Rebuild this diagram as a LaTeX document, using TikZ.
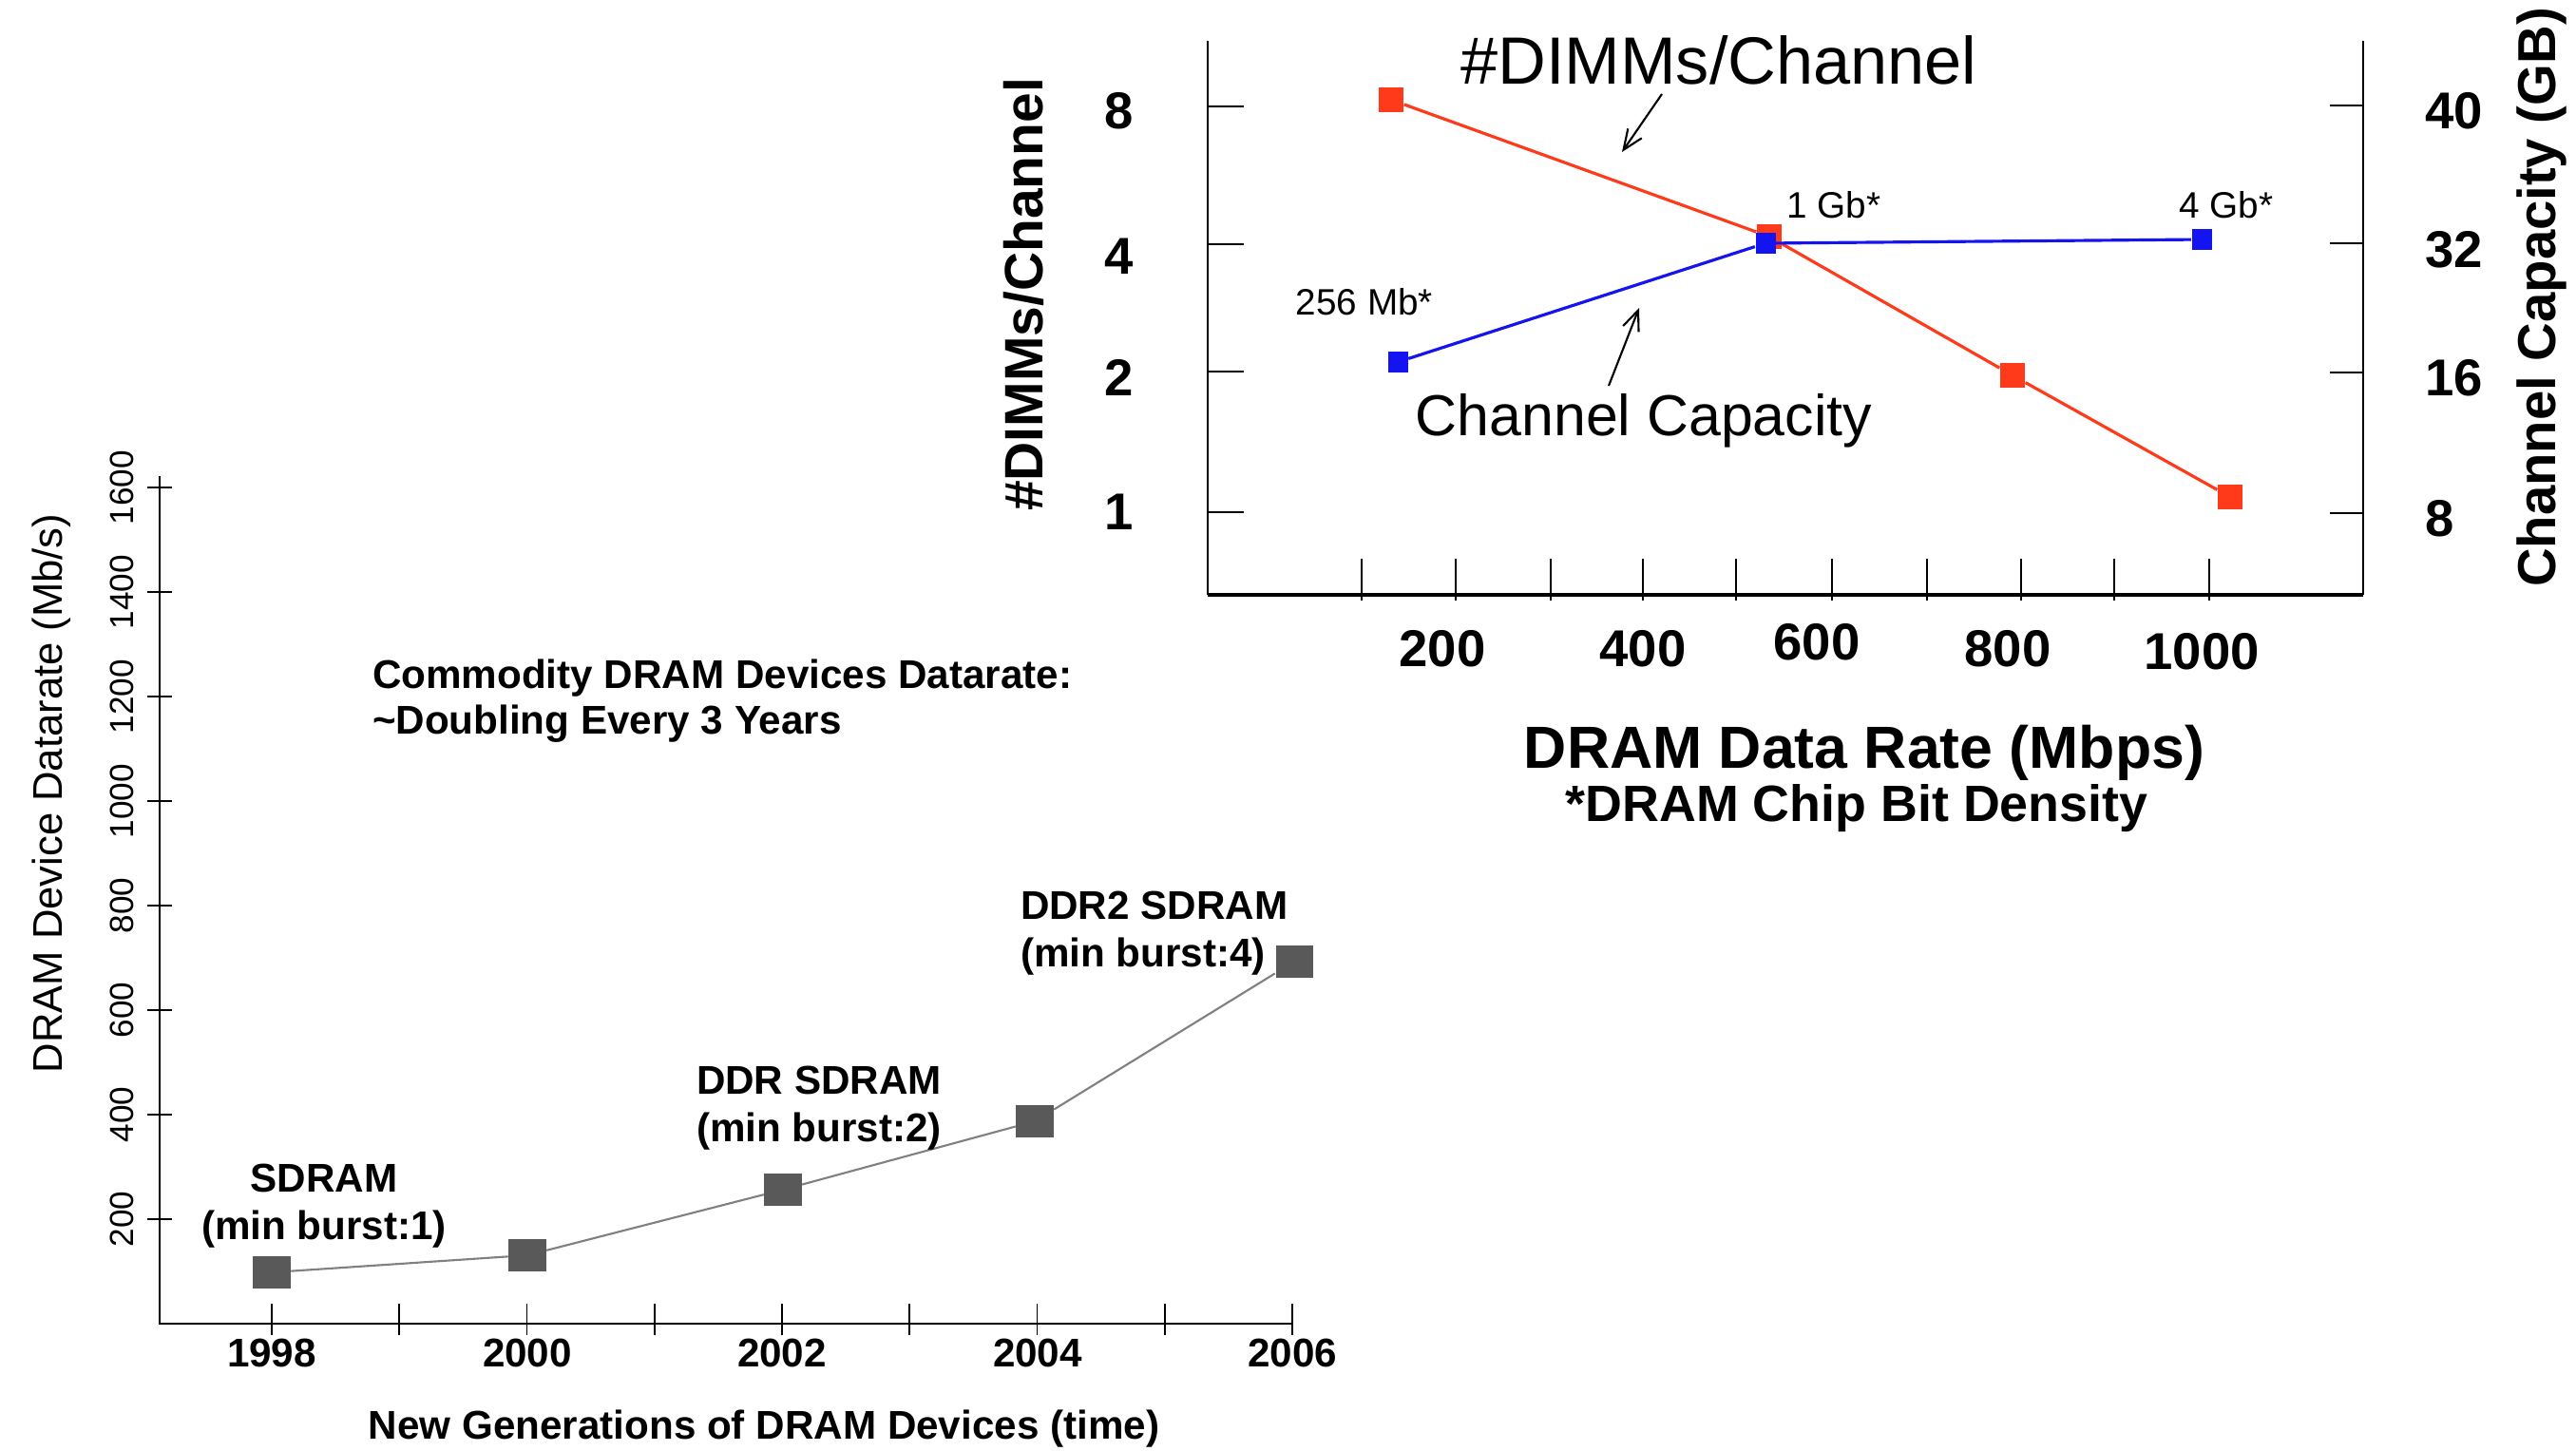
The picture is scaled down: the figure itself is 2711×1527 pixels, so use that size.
\documentclass[tikz,border=0pt]{standalone}
\usepackage{fontspec}
\setmainfont{Liberation Sans}
\usetikzlibrary{arrows.meta}
\definecolor{dimred}{HTML}{FF3A1A}
\definecolor{capblue}{HTML}{1414F0}
\definecolor{ptgray}{HTML}{595959}
\definecolor{lngray}{HTML}{808080}
\begin{document}
\begin{tikzpicture}[x=0.01cm,y=-0.01cm,
  axisline/.style={line width=0.6pt, draw=black},
  tickline/.style={line width=0.5pt, draw=black},
  redpt/.style={rectangle, fill=dimred, inner sep=0pt, minimum size=0.26cm},
  bluept/.style={rectangle, fill=capblue, inner sep=0pt, minimum size=0.21cm},
  graypt/.style={rectangle, fill=ptgray, inner sep=0pt, minimum width=0.39cm, minimum height=0.34cm},
  redline/.style={draw=dimred, line width=0.9pt},
  blueline/.style={draw=capblue, line width=0.9pt},
  grayline/.style={draw=lngray, line width=0.6pt},
  pointer/.style={draw=black, line width=0.6pt, -{Straight Barb[length=6pt,width=5pt]}},
  txt/.style={inner sep=0pt, outer sep=0pt},
  topnum/.style={txt, font=\fontsize{15.5}{18}\selectfont\bfseries},
  smalllab/.style={txt, font=\fontsize{11}{13}\selectfont},
  botb/.style={txt, font=\fontsize{12}{14.2}\selectfont\bfseries},
  botnum/.style={txt, font=\fontsize{10}{12}\selectfont},
]
\useasboundingbox (0,0) rectangle (2711,1527);

% ================= Top chart =================
\draw[axisline] (1271,43) -- (1271,626);
\draw[line width=0.9pt] (1271,626) -- (2487,626);
\draw[axisline] (2487,43) -- (2487,626);
\foreach \yy in {112,257,391,539} \draw[tickline] (1271,\yy) -- (1309,\yy);
\foreach \yy in {111,256,392,540} \draw[tickline] (2452,\yy) -- (2487,\yy);
\foreach \xx in {1433,1532,1632,1729,1827,1928,2028,2127,2225,2325} \draw[tickline] (\xx,588) -- (\xx,632);

\node[topnum] (ly8) at (1178,117) {8};
\node[topnum] (ly4) at (1178,270) {4};
\node[topnum] (ly2) at (1178,397) {2};
\node[topnum] (ly1) at (1178,539) {1};
\node[topnum, anchor=west] (ry40) at (2552,117) {40};
\node[topnum, anchor=west] (ry32) at (2552,263) {32};
\node[topnum, anchor=west] (ry16) at (2552,398) {16};
\node[topnum, anchor=west] (ry8) at (2552,546) {8};

\node[topnum] (bx200) at (1518,683) {200};
\node[topnum] (bx400) at (1729,683) {400};
\node[topnum] (bx600) at (1912,676) {600};
\node[topnum] (bx800) at (2113,683) {800};
\node[topnum] (bx1000) at (2317,686) {1000};

\node[txt, font=\fontsize{17.8}{21}\selectfont\bfseries] (xtitle) at (1962,792) {DRAM Data Rate (Mbps)};
\node[txt, font=\fontsize{15.3}{18}\selectfont\bfseries] (xnote) at (1954,851) {*DRAM Chip Bit Density};
\node[txt, font=\fontsize{16.2}{19}\selectfont\bfseries, rotate=90] (ltitle) at (1077,310) {\#DIMMs/Channel};
\node[txt, font=\fontsize{16}{19}\selectfont\bfseries, rotate=90] (rtitle) at (2675,313) {Channel Capacity (GB)};

% series
\node[redpt] (r1) at (1464,105) {};
\node[redpt] (r2) at (1862,249) {};
\node[redpt] (r3) at (2118,395) {};
\node[redpt] (r4) at (2347,523) {};
\draw[redline] (r1) -- (r2) -- (r3) -- (r4);

\node[bluept] (b1) at (1471,381) {};
\node[bluept] (b2) at (1858,256) {};
\node[bluept] (b3) at (2317,252) {};
\draw[blueline] (b1) -- (b2) -- (b3);

\node[txt, font=\fontsize{20}{24}\selectfont] (dimmlab) at (1809,63) {\#DIMMs/Channel};
\coordinate (d0) at (1749,99);
\coordinate (d1) at (1707,160);
\draw[pointer] (d0) -- (d1);

\node[txt, font=\fontsize{17.3}{21}\selectfont] (caplab) at (1730,443) {Channel Capacity};
\coordinate (c0) at (1693,406);
\coordinate (c1) at (1725,324);
\draw[pointer] (c0) -- (c1);

\node[smalllab] (g1) at (1930,216) {1 Gb*};
\node[smalllab] (g4) at (2343,216) {4 Gb*};
\node[smalllab] (m256) at (1436,318) {256 Mb*};

% ================= Bottom-left chart =================
\draw[axisline] (168,501) -- (168,1393) -- (1360,1393);
\foreach \k/\lab in {1/200,2/400,3/600,4/800,5/1000,6/1200,7/1400,8/1600}{
  \draw[tickline] (155,1393-\k*110) -- (181,1393-\k*110);
  \node[botnum, rotate=90] (yt\k) at (128,1393-\k*110) {\lab};
}
\foreach \k in {0,...,8} \draw[tickline] (286+\k*134.25,1372) -- (286+\k*134.25,1405);
\node[botb] (yr1998) at (286,1424) {1998};
\node[botb] (yr2000) at (555,1424) {2000};
\node[botb] (yr2002) at (823,1424) {2002};
\node[botb] (yr2004) at (1092,1424) {2004};
\node[botb] (yr2006) at (1360,1424) {2006};

\node[txt, font=\fontsize{12.4}{15}\selectfont, rotate=90] (ylab) at (54,835) {DRAM Device Datarate (Mb/s)};
\node[botb] (xlab) at (804,1504) {New Generations of DRAM Devices (time)};

\node[graypt] (p1998) at (286,1339) {};
\node[graypt] (p2000) at (555,1321) {};
\node[graypt] (p2002) at (824,1252) {};
\node[graypt] (p2004) at (1089,1180) {};
\node[graypt] (p2006) at (1362,1012) {};
\draw[grayline] (p1998) -- (p2000) -- (p2002) -- (p2004) -- (p2006);

\node[botb, align=center] (lsd) at (341,1269) {SDRAM\\(min burst:1)};
\node[botb, align=left, anchor=west] (lddr) at (733,1166) {DDR SDRAM\\(min burst:2)};
\node[botb, align=left, anchor=west] (lddr2) at (1074,982) {DDR2 SDRAM\\(min burst:4)};
\node[botb, align=left, anchor=west, font=\fontsize{12}{13.7}\selectfont\bfseries] (comm) at (392,738) {Commodity DRAM Devices Datarate:\\\textasciitilde Doubling Every 3 Years};
\end{tikzpicture}
\end{document}
